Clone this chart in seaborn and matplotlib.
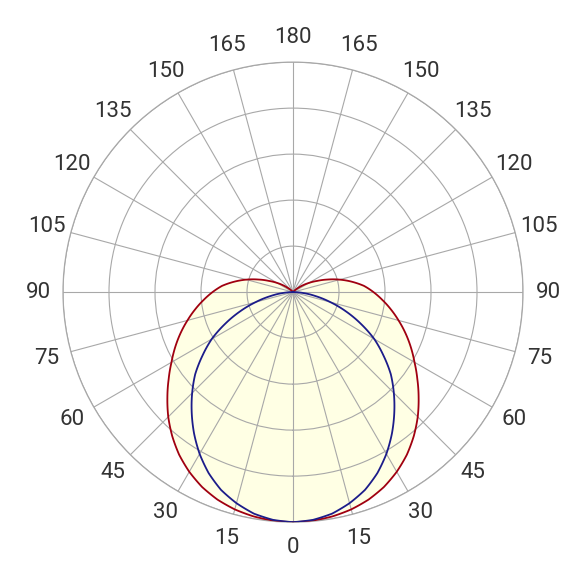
import numpy as np
import pandas as pd
import matplotlib
matplotlib.use("Agg")
import matplotlib.pyplot as plt
import seaborn as sns

# Angles (degrees from nadir), one half of each symmetric curve
angles = [0, 5, 10, 15, 20, 25, 30, 35, 40, 45, 50, 55, 60, 65, 70, 75, 80, 85, 90,
          95, 100, 105, 110, 115, 120, 125, 130, 135, 140, 145, 150, 155, 160, 165, 170, 175, 180]
# Red curve (relative intensity, %)
red_vals = [100, 99.7, 99, 97.8, 96, 93.5, 90.2, 86.3, 81.7, 76.7, 71.3, 66, 61, 56.5, 52, 47.5, 43.2, 39, 35,
            31, 26, 21, 16, 11.5, 8, 5, 2.5, 1, 0, 0, 0, 0, 0, 0, 0, 0, 0]
# Blue curve (relative intensity, %)
blue_vals = [100, 99.4, 97.8, 95, 91.5, 86.8, 81.2, 75, 68.5, 62, 55.5, 48, 40.8, 32.5, 24.5, 16.8, 10, 4.5, 0,
             0, 0, 0, 0, 0, 0, 0, 0, 0, 0, 0, 0, 0, 0, 0, 0, 0, 0]

tick_angles = list(range(0, 360, 15))
tick_labels = [str(a if a <= 180 else 360 - a) for a in tick_angles]

def full_curve(vals):
    a = np.array(angles, dtype=float)
    v = np.array(vals, dtype=float)
    th = np.concatenate([-a[::-1], a[1:]])
    r = np.concatenate([v[::-1], v[1:]])
    return pd.DataFrame({"theta": np.deg2rad(th), "r": r})

red_df = full_curve(red_vals)
blue_df = full_curve(blue_vals)

sns.set_theme(style="white")
plt.rcParams['font.family'] = ['Roboto', 'DejaVu Sans']

fig = plt.figure(figsize=(5.86, 5.86), dpi=100)
ax = fig.add_axes([0.1075, 0.109, 0.785, 0.785], projection="polar")
ax.set_theta_zero_location("S")
ax.set_theta_direction(1)
ax.set_ylim(0, 100)

poly = ax.fill(red_df["theta"], red_df["r"], color="#ffffe4", zorder=1, lw=0)
for p in poly:
    p.get_path()._interpolation_steps = 20
sns.lineplot(data=red_df, x="theta", y="r", sort=False, estimator=None, ax=ax,
             color="#a00010", lw=1.3, zorder=3)
sns.lineplot(data=blue_df, x="theta", y="r", sort=False, estimator=None, ax=ax,
             color="#1c1c8a", lw=1.3, zorder=3)
for ln in ax.get_lines():
    ln.get_path()._interpolation_steps = 20

ax.set_axisbelow(False)
ax.set_thetagrids(tick_angles, labels=tick_labels)
ax.set_rgrids([20, 40, 60, 80, 100], labels=[])
ax.grid(True, color="#a8a8a8", lw=0.8)
ax.spines["polar"].set_color("#a8a8a8")
ax.spines["polar"].set_linewidth(0.9)
ax.tick_params(axis="x", pad=5, labelsize=16, colors="#333333")
ax.set_xlabel("")
ax.set_ylabel("")

fig.savefig("out.png", dpi=100, facecolor="white")
